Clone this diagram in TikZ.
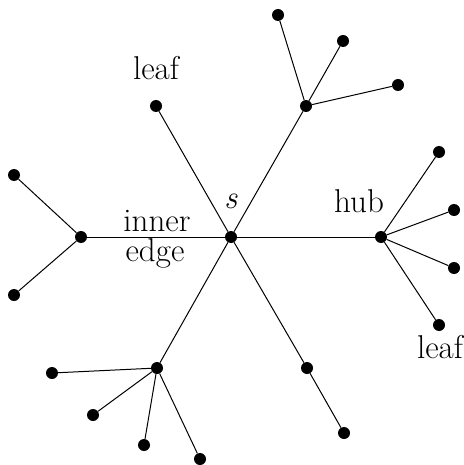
\documentclass[tikz,border=0pt]{standalone}
\usepackage{fontspec}
\setmainfont{Latin Modern Roman}
\begin{document}
\begin{tikzpicture}[x=1pt,y=-1pt,
  dot/.style={circle,fill=black,inner sep=0pt,minimum size=12pt},
  edge/.style={line width=1pt},
  lbl/.style={font=\fontsize{33}{38}\selectfont,inner sep=0pt}]
\useasboundingbox (0,0) rectangle (463,465);
% nodes
\node[dot] (s) at (231,237) {};
\node[dot] (lh) at (81,237) {};
\node[dot] (l1) at (14,175) {};
\node[dot] (l2) at (14,295) {};
\node[dot] (tl) at (156,106) {};
\node[dot] (uh) at (306,106) {};
\node[dot] (u1) at (278,15) {};
\node[dot] (u2) at (343,41) {};
\node[dot] (u3) at (398,85) {};
\node[dot] (rh) at (381,237) {};
\node[dot] (r1) at (439,152) {};
\node[dot] (r2) at (454,210) {};
\node[dot] (r3) at (454,268) {};
\node[dot] (r4) at (439,325) {};
\node[dot] (bh) at (157,368) {};
\node[dot] (b1) at (52,373) {};
\node[dot] (b2) at (93,415) {};
\node[dot] (b3) at (144,445) {};
\node[dot] (b4) at (200,459) {};
\node[dot] (m1) at (307,368) {};
\node[dot] (m2) at (344,433) {};
% edges
\draw[edge] (s) -- (lh);
\draw[edge] (lh) -- (l1);
\draw[edge] (lh) -- (l2);
\draw[edge] (s) -- (tl);
\draw[edge] (s) -- (uh);
\draw[edge] (uh) -- (u1);
\draw[edge] (uh) -- (u2);
\draw[edge] (uh) -- (u3);
\draw[edge] (s) -- (rh);
\draw[edge] (rh) -- (r1);
\draw[edge] (rh) -- (r2);
\draw[edge] (rh) -- (r3);
\draw[edge] (rh) -- (r4);
\draw[edge] (s) -- (bh);
\draw[edge] (bh) -- (b1);
\draw[edge] (bh) -- (b2);
\draw[edge] (bh) -- (b3);
\draw[edge] (bh) -- (b4);
\draw[edge] (s) -- (m1);
\draw[edge] (m1) -- (m2);
% labels
\node[lbl,anchor=base] (tleaf) at (156,80) {leaf};
\node[lbl,anchor=base] (slbl) at (231,208) {\textit{s}};
\node[lbl,anchor=base] (hub) at (359,212) {hub};
\node[lbl,anchor=base] (inner) at (157,231) {inner};
\node[lbl,anchor=base] (edgel) at (155,261) {edge};
\node[lbl,anchor=base] (rleaf) at (440,358) {leaf};
\end{tikzpicture}
\end{document}
